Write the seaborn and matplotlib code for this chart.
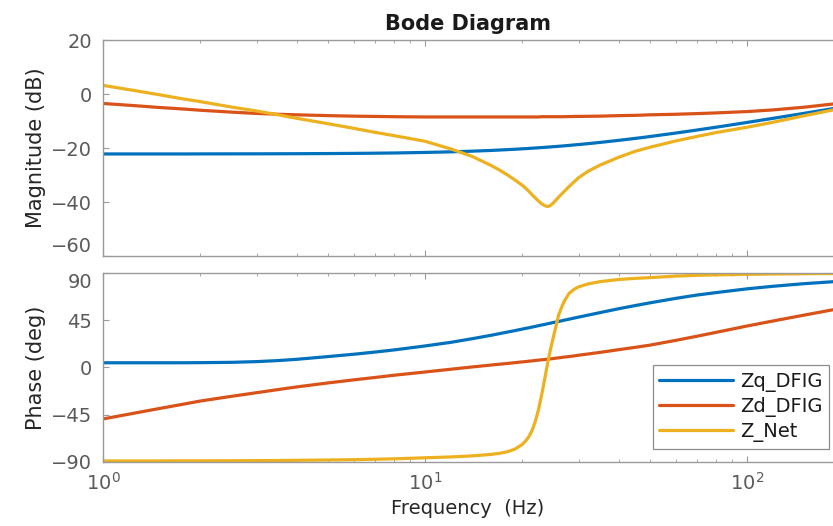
import matplotlib
matplotlib.use("Agg")
import matplotlib.pyplot as plt
from matplotlib.ticker import LogLocator, FixedLocator, NullFormatter
import seaborn as sns
import pandas as pd

# Frequency grid (Hz) and readings for each impedance
freqs = [1, 1.25, 1.5, 1.75, 2, 2.5, 3, 3.5, 4, 5,
         6, 7, 8, 10, 12, 14, 16, 17, 18, 19,
         20, 20.5, 21, 21.5, 22, 22.5, 23, 23.5, 24, 24.5,
         25, 25.5, 26, 26.5, 27, 28, 29, 30, 32, 35,
         40, 45, 50, 60, 70, 80, 100, 120, 150, 185]

# Magnitude (dB)
mag_zq = [-22.2, -22.2, -22.2, -22.2, -22.18, -22.16, -22.15, -22.13, -22.11, -22.05,
          -21.99, -21.92, -21.84, -21.64, -21.42, -21.17, -20.9, -20.75, -20.6, -20.46,
          -20.3, -20.23, -20.15, -20.07, -19.99, -19.91, -19.83, -19.76, -19.67, -19.59,
          -19.51, -19.44, -19.36, -19.28, -19.2, -19.03, -18.87, -18.71, -18.39, -17.92,
          -17.16, -16.43, -15.75, -14.47, -13.33, -12.31, -10.53, -9.04, -7.18, -5.4]
mag_zd = [-3.5, -4.3, -5.0, -5.5, -6.0, -6.7, -7.2, -7.5, -7.7, -8.0,
          -8.2, -8.3, -8.4, -8.5, -8.5, -8.5, -8.5, -8.5, -8.5, -8.5,
          -8.5, -8.5, -8.5, -8.5, -8.5, -8.5, -8.4, -8.4, -8.4, -8.4,
          -8.4, -8.4, -8.4, -8.4, -8.4, -8.35, -8.3, -8.3, -8.25, -8.2,
          -8.0, -7.9, -7.7, -7.5, -7.25, -7.0, -6.5, -5.9, -4.9, -3.7]
mag_net = [3.2, 1.3, -0.3, -1.7, -2.8, -4.8, -6.3, -7.7, -9.0, -11.0,
           -12.7, -14.2, -15.4, -17.5, -20.3, -23.1, -26.4, -28.1, -29.9, -31.8,
           -33.7, -34.8, -36.0, -37.3, -38.5, -39.6, -40.6, -41.3, -41.7, -41.3,
           -40.4, -39.3, -38.2, -37.2, -36.2, -34.3, -32.6, -31.0, -28.7, -26.3,
           -23.4, -21.2, -19.7, -17.4, -15.7, -14.3, -12.3, -10.5, -8.1, -5.9]

# Phase (deg)
ph_zq = [4.5, 4.5, 4.5, 4.5, 4.6, 4.9, 5.6, 6.6, 7.8, 10.4,
         12.6, 14.7, 16.7, 20.5, 23.9, 27.4, 30.6, 32.2, 33.7, 35.1,
         36.5, 37.2, 37.8, 38.5, 39.1, 39.8, 40.4, 41.0, 41.6, 42.2,
         42.8, 43.3, 43.9, 44.4, 45.0, 46.0, 47.0, 48.0, 49.8, 52.3,
         56.0, 59.0, 61.6, 65.8, 69.0, 71.3, 74.9, 77.3, 79.8, 81.7]
ph_zd = [-49.0, -43.5, -39.0, -35.3, -32.0, -27.5, -24.0, -21.0, -18.5, -14.7,
         -11.8, -9.5, -7.4, -4.3, -1.7, 0.5, 2.3, 3.1, 3.8, 4.6,
         5.3, 5.6, 6.0, 6.3, 6.7, 7.0, 7.3, 7.6, 7.9, 8.2,
         8.5, 8.9, 9.2, 9.5, 9.9, 10.4, 11.0, 11.7, 12.8, 14.4,
         17.0, 19.2, 21.3, 25.8, 29.8, 33.4, 39.5, 44.2, 49.8, 55.0]
ph_net = [-89.0, -89.0, -89.0, -88.9, -88.9, -88.8, -88.7, -88.6, -88.4, -88.1,
          -87.8, -87.4, -87.0, -86.0, -85.2, -84.2, -82.8, -81.8, -80.3, -77.8,
          -73.5, -70.3, -66.0, -60.0, -51.5, -40.5, -27.0, -12.0, 3.0, 16.5,
          28.0, 39.0, 50.0, 56.5, 62.5, 70.5, 74.3, 76.8, 79.5, 81.8,
          83.8, 84.9, 85.6, 87.0, 87.8, 88.2, 88.7, 89.0, 89.3, 89.5]

series_names = ["Zq_DFIG", "Zd_DFIG", "Z_Net"]
series_colors = ["#0072BD", "#D95319", "#EDB120"]

mags = [mag_zq, mag_zd, mag_net]
phases = [ph_zq, ph_zd, ph_net]
frames = []
for name, m, p in zip(series_names, mags, phases):
    frames.append(pd.DataFrame({"freq": freqs, "mag": m, "phase": p, "series": name}))
df = pd.concat(frames, ignore_index=True)

sns.set_theme(style="white")
plt.rcParams["font.family"] = ["DejaVu Sans"]
plt.rcParams["mathtext.fontset"] = "dejavusans"

fig = plt.figure(figsize=(8.33, 5.26), dpi=100)
ax1 = fig.add_axes([0.1237, 0.5133, 0.8763, 0.4106])
ax2 = fig.add_axes([0.1237, 0.1217, 0.8763, 0.3593])

palette = dict(zip(series_names, series_colors))
sns.lineplot(data=df, x="freq", y="mag", hue="series", hue_order=series_names,
             palette=palette, ax=ax1, linewidth=2.3, sort=False,
             estimator=None, legend=False)
sns.lineplot(data=df, x="freq", y="phase", hue="series", hue_order=series_names,
             palette=palette, ax=ax2, linewidth=2.3, sort=False,
             estimator=None, legend=False)

spine_col = "#9a9a9a"
tick_col = "#5a5a5a"
for ax in (ax1, ax2):
    ax.set_xscale("log")
    ax.set_xlim(1, 185)
    ax.xaxis.set_major_locator(LogLocator(base=10, numticks=10))
    ax.xaxis.set_minor_locator(LogLocator(base=10, subs=range(2, 10), numticks=20))
    ax.xaxis.set_minor_formatter(NullFormatter())
    for side in ("top", "bottom", "left"):
        ax.spines[side].set_color(spine_col)
        ax.spines[side].set_linewidth(1.0)
    ax.spines["right"].set_visible(False)
    ax.tick_params(which="both", direction="in", top=True, bottom=True,
                   left=True, right=False, color=spine_col, labelcolor=tick_col,
                   labelsize=14)
    ax.tick_params(which="major", length=4, width=0.8)
    ax.tick_params(which="minor", length=2.5, width=0.6)
    ax.tick_params(axis="y", pad=8)
    ax.tick_params(axis="x", pad=7)

ax1.set_ylim(-60, 20)
ax1.yaxis.set_major_locator(FixedLocator([-60, -40, -20, 0, 20]))
ax1.tick_params(axis="x", labelbottom=False)
ax1.set_xlabel("")
ax1.set_ylabel("Magnitude (dB)", fontsize=15, color="#262626")
ax1.yaxis.set_label_coords(-0.078, 0.5)
ax1.set_title("Bode Diagram", fontsize=15, fontweight="bold", color="#1a1a1a", pad=7)

ax2.set_ylim(-90, 90)
ax2.yaxis.set_major_locator(FixedLocator([-90, -45, 0, 45, 90]))
ax2.set_ylabel("Phase (deg)", fontsize=15, color="#262626")
ax2.yaxis.set_label_coords(-0.078, 0.5)
ax2.set_xlabel("Frequency  (Hz)", fontsize=14, color="#262626")
ax2.xaxis.set_label_coords(0.5, -0.195)

# keep the -60 and 90 labels in the narrow gap between the two panels apart
ax1.yaxis.get_major_ticks()[0].label1.set_verticalalignment("bottom")
ax2.yaxis.get_major_ticks()[-1].label1.set_verticalalignment("top")

handles = ax2.get_lines()[:3]
leg = ax2.legend(handles, series_names, loc="lower right",
                 bbox_to_anchor=(0.995, 0.07), borderaxespad=0,
                 fontsize=14, frameon=True, fancybox=False, framealpha=1,
                 handlelength=3.8, handletextpad=0.35, labelspacing=0.25,
                 borderpad=0.35)
leg.get_frame().set_edgecolor("#8c8c8c")
leg.get_frame().set_linewidth(0.9)
for t in leg.get_texts():
    t.set_color("#1a1a1a")

fig.savefig("out.png", dpi=100)
